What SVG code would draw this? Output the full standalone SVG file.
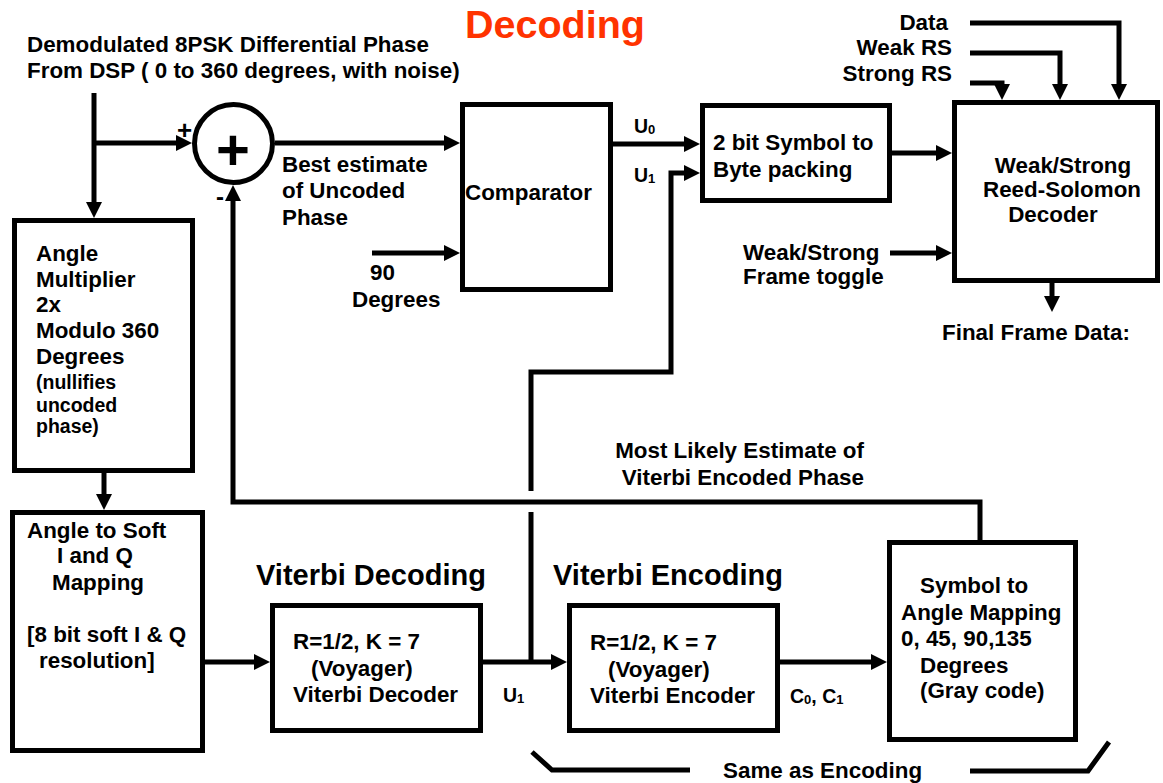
<svg xmlns="http://www.w3.org/2000/svg" width="1163" height="783" viewBox="0 0 1163 783">
<style>
.box{fill:#fff;stroke:#000;stroke-width:5}
.ln{fill:none;stroke:#000;stroke-width:5;stroke-linejoin:miter;stroke-linecap:butt}
.arr{marker-end:url(#ah)}
text{font-family:"Liberation Sans",Arial,Helvetica,sans-serif;font-weight:bold;font-size:22.4px;fill:#000}
.sm{font-size:19.5px}
.h1{font-size:39.5px;fill:#FF3300}
.h2{font-size:29px}
.u{font-size:19.5px}
.sub{font-size:13px}
.mid{text-anchor:middle}
.end{text-anchor:end}
</style>
<defs>
<marker id="ah" viewBox="0 0 16 16" refX="1" refY="8" markerWidth="16" markerHeight="16" markerUnits="userSpaceOnUse" orient="auto">
<path d="M0,0 L16,8 L0,16 z" fill="#000"/>
</marker>
</defs>
<rect width="1163" height="783" fill="#fff"/>

<g id="connectors">
<path class="ln arr" d="M94,93 V203"/>
<path class="ln arr" d="M94,143 H177"/>
<path class="ln arr" d="M275,143 H445"/>
<path class="ln arr" d="M980,541 V502 H233 V200"/>
<path class="ln arr" d="M372,253 H445"/>
<path class="ln arr" d="M613,144 H685"/>
<path class="ln" d="M531,662 V512"/>
<path class="ln arr" d="M531,491 V372 H671 V173 H685"/>
<path class="ln arr" d="M104,473 V495"/>
<path class="ln arr" d="M205,662 H255"/>
<path class="ln arr" d="M483,662 H552"/>
<path class="ln arr" d="M780,662 H872"/>
<path class="ln arr" d="M892,153 H937"/>
<path class="ln arr" d="M890,253 H937"/>
<path class="ln arr" d="M1052,283 V297"/>
<path class="ln arr" d="M970,23 H1119 V85"/>
<path class="ln arr" d="M970,53 H1060 V85"/>
<path class="ln arr" d="M970,83 H1002 V85"/>
<path class="ln" d="M532,752 L552,770 H690"/>
<path class="ln" d="M970,771 H1088 L1109,742"/>
</g>

<g id="title">
<text class="h1" x="465" y="38">Decoding</text>
</g>

<g id="input">
<text x="27" y="52">Demodulated 8PSK Differential Phase</text>
<text x="27" y="78">From DSP ( 0 to 360 degrees, with noise)</text>
</g>

<g id="summer">
<circle cx="233.5" cy="143.5" r="39" fill="#fff" stroke="#000" stroke-width="5"/>
<text class="mid" x="233" y="170" style="font-size:58px">+</text>
<text class="mid" x="184.5" y="138.5" style="font-size:26px">+</text>
<text class="mid" x="220" y="205" style="font-size:24px">-</text>
</g>

<g id="best-estimate">
<text x="282" y="172">Best estimate</text>
<text x="282" y="198">of Uncoded</text>
<text x="282" y="225">Phase</text>
</g>

<g id="ninety">
<text x="370" y="280">90</text>
<text x="352" y="307">Degrees</text>
</g>

<g id="comparator">
<rect class="box" x="462.5" y="104.5" width="148" height="185"/>
<text x="465" y="200">Comparator</text>
</g>

<g id="u-labels">
<text class="u" x="634" y="133">U<tspan class="sub" dy="1">0</tspan></text>
<text class="u" x="634" y="182">U<tspan class="sub" dy="1">1</tspan></text>
</g>

<g id="packing">
<rect class="box" x="702.5" y="105.5" width="187" height="95"/>
<text x="713" y="150">2 bit Symbol to</text>
<text x="713" y="177">Byte packing</text>
</g>

<g id="rs-inputs">
<text class="end" x="948" y="30">Data</text>
<text class="end" x="952" y="55">Weak RS</text>
<text class="end" x="952" y="81">Strong RS</text>
</g>

<g id="rs-decoder">
<rect class="box" x="954.5" y="102.5" width="203" height="178"/>
<text class="mid" x="1063" y="173">Weak/Strong</text>
<text class="mid" x="1062" y="197">Reed-Solomon</text>
<text class="mid" x="1053" y="222">Decoder</text>
</g>

<g id="toggle">
<text x="743" y="260">Weak/Strong</text>
<text x="743" y="284">Frame toggle</text>
</g>

<g id="final">
<text x="942" y="340">Final Frame Data:</text>
</g>

<g id="angle-multiplier">
<rect class="box" x="14.5" y="220.5" width="178" height="250"/>
<text x="36" y="261">Angle</text>
<text x="36" y="287">Multiplier</text>
<text x="36" y="312">2x</text>
<text x="36" y="338">Modulo 360</text>
<text x="36" y="364">Degrees</text>
<text class="sm" x="36" y="389">(nullifies</text>
<text class="sm" x="36" y="412">uncoded</text>
<text class="sm" x="36" y="433">phase)</text>
</g>

<g id="most-likely">
<text class="end" x="864" y="458">Most Likely Estimate of</text>
<text class="end" x="864" y="485">Viterbi Encoded Phase</text>
</g>

<g id="angle-to-soft">
<rect class="box" x="12.5" y="512.5" width="190" height="238"/>
<text x="27" y="538">Angle to Soft</text>
<text x="57" y="563">I and Q</text>
<text x="52" y="590">Mapping</text>
<text x="27" y="642">[8 bit soft I &amp; Q</text>
<text x="39" y="668">resolution]</text>
</g>

<g id="viterbi-decoder">
<text class="h2" x="256" y="585">Viterbi Decoding</text>
<rect class="box" x="272.5" y="605.5" width="208" height="125"/>
<text x="293" y="649">R=1/2, K = 7</text>
<text x="311" y="676">(Voyager)</text>
<text x="293" y="702">Viterbi Decoder</text>
</g>

<g id="u1-bottom">
<text class="u" x="503" y="702">U<tspan class="sub" dy="1">1</tspan></text>
</g>

<g id="viterbi-encoder">
<text class="h2" x="553" y="585">Viterbi Encoding</text>
<rect class="box" x="569.5" y="605.5" width="208" height="125"/>
<text x="590" y="650">R=1/2, K = 7</text>
<text x="608" y="677">(Voyager)</text>
<text x="590" y="703">Viterbi Encoder</text>
</g>

<g id="c-labels">
<text class="u" x="790" y="703">C<tspan class="sub" dy="1">0</tspan><tspan dy="-1">, C</tspan><tspan class="sub" dy="1">1</tspan></text>
</g>

<g id="symbol-mapping">
<rect class="box" x="889.5" y="542.5" width="186" height="197"/>
<text x="920" y="593">Symbol to</text>
<text x="901" y="620">Angle Mapping</text>
<text x="901" y="646">0, 45, 90,135</text>
<text x="920" y="673">Degrees</text>
<text x="920" y="698">(Gray code)</text>
</g>

<g id="same-as">
<text x="723" y="778">Same as Encoding</text>
</g>
</svg>
